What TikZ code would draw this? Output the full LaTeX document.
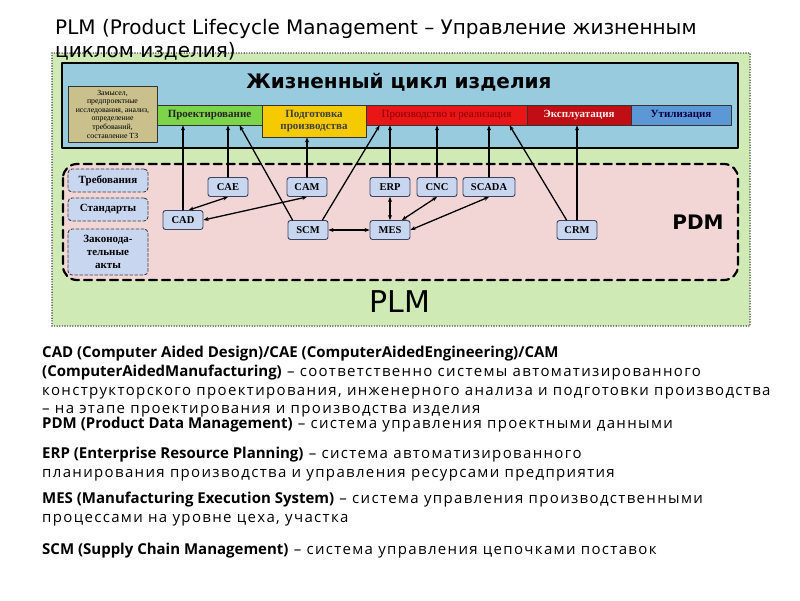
\documentclass[tikz,border=0pt]{standalone}
\usepackage{fontspec}
\setmainfont{DejaVu Sans}
\newfontfamily\tnr{Liberation Serif}
\newfontfamily\notefont{Open Sans}
\newfontfamily\noteregular[LetterSpace=9]{Open Sans}
\newcommand\keyterm[1]{{\notefont\bfseries #1}}
\usetikzlibrary{arrows.meta}
\definecolor{plmgreen}{RGB}{208,234,182}
\definecolor{lcblue}{RGB}{153,203,222}
\definecolor{pdmpink}{RGB}{242,214,214}
\definecolor{stagetan}{RGB}{201,192,140}
\definecolor{stagegreen}{RGB}{124,212,72}
\definecolor{stageyellow}{RGB}{246,202,0}
\definecolor{stagered}{RGB}{232,22,22}
\definecolor{stagedarkred}{RGB}{192,14,20}
\definecolor{stageblue}{RGB}{92,152,214}
\definecolor{sysfill}{RGB}{200,214,240}
\definecolor{sysedge}{RGB}{60,68,96}
\tikzset{
  every picture/.style={line join=round, line cap=round, >=Stealth},
  stagebox/.style={draw=black!80, line width=0.8pt, inner sep=0pt, align=center,
    font=\tnr\bfseries\fontsize{11}{12}\selectfont},
  sysbox/.style={draw=sysedge, fill=sysfill, rounded corners=2.5pt, line width=0.9pt,
    minimum width=40pt, minimum height=19pt, inner sep=0pt,
    font=\tnr\bfseries\fontsize{10.5}{12}\selectfont},
  normbox/.style={draw=black!75, line width=0.9pt, dash pattern=on 3pt off 2pt, fill=sysfill,
    rounded corners=4pt, minimum width=80pt, inner sep=0pt, align=center,
    font=\tnr\bfseries\fontsize{11}{13}\selectfont},
  link/.style={-{Stealth[length=5pt,width=4pt]}, line width=1.3pt},
  dlink/.style={{Stealth[length=5pt,width=4pt]}-{Stealth[length=5pt,width=4pt]}, line width=1.3pt},
  legend/.style={anchor=base west, inner sep=0pt, font=\noteregular\fontsize{15}{18}\selectfont},
}
\begin{document}
\begin{tikzpicture}[x=1pt,y=-1pt]
\useasboundingbox[fill=white] (0,0) rectangle (800,600);
% PLM area
\draw[draw=black!70, line width=1.6pt, dash pattern=on 0pt off 2.6pt, fill=plmgreen] (52,53) rectangle (750,326);
\node[anchor=base west, inner sep=0pt, font=\fontsize{20}{22}\selectfont] (title1) at (55,34) {PLM (Product Lifecycle Management – Управление жизненным};
\node[anchor=base west, inner sep=0pt, font=\fontsize{20}{22}\selectfont] (title2) at (55,57) {циклом изделия)};
% life cycle
\draw[line width=2pt, fill=lcblue] (62,63) rectangle (738,148);
\node[font=\bfseries\fontsize{20}{22}\selectfont] (lc) at (399,82) {Жизненный цикл изделия};
\node[stagebox, fill=stagetan, minimum width=89pt, minimum height=56pt, font=\tnr\fontsize{7.8}{8.6}\selectfont] (idea) at (112.5,114)
  {Замысел,\\предпроектные\\исследования, анализ,\\определение\\требований,\\составление ТЗ};
\node[stagebox, fill=stagegreen, text=black!85, minimum width=105pt, minimum height=20pt] (proekt) at (209.5,115) {Проектирование};
\node[stagebox, fill=stageyellow, text=black!75, minimum width=104pt, minimum height=32pt] (podg) at (314,121) {Подготовка\\производства};
\node[stagebox, fill=stagered, text=red!55!black, minimum width=161pt, minimum height=20pt, font=\tnr\fontsize{11}{12}\selectfont] (proizv) at (446.5,115) {Производство и реализация};
\node[stagebox, fill=stagedarkred, text=red!8, minimum width=104pt, minimum height=20pt] (explo) at (579,115) {Эксплуатация};
\node[stagebox, fill=stageblue, text=blue!25!black, minimum width=100pt, minimum height=20pt] (util) at (681,115) {Утилизация};
% PDM area
\draw[fill=pdmpink, line width=2.2pt, dash pattern=on 8pt off 5pt, rounded corners=14pt] (63,164) rectangle (738,280);
\node[font=\bfseries\fontsize{20}{22}\selectfont] (pdm) at (698,222) {PDM};
\node[font=\fontsize{30}{32}\selectfont] (plm) at (400,302) {PLM};
\node[normbox, minimum height=23pt] (treb) at (108,180.5) {Требования};
\node[normbox, minimum height=23pt] (stand) at (108,209.5) {Стандарты};
\node[normbox, minimum height=46pt] (zakon) at (108,252) {Законода-\\тельные\\акты};
% systems
\node[sysbox] (cad) at (183,220) {CAD};
\node[sysbox] (cae) at (228,187) {CAE};
\node[sysbox] (cam) at (307,187) {CAM};
\node[sysbox] (scm) at (308,230) {SCM};
\node[sysbox] (mes) at (390,230) {MES};
\node[sysbox] (erp) at (390,187) {ERP};
\node[sysbox] (cnc) at (437,187) {CNC};
\node[sysbox, minimum width=52pt] (scada) at (489,187) {SCADA};
\node[sysbox] (crm) at (577,230) {CRM};
% links to stages
\draw[link] (cad.north) -- (cad.north |- proekt.south);
\draw[link] (cae.north) -- (cae.north |- proekt.south);
\draw[link] ([xshift=5pt]scm.north west) -- ([xshift=83pt]proekt.south west);
\draw[link] (cam.north) -- (cam.north |- podg.south);
\draw[link] ([xshift=-6pt]scm.north east) -- ([xshift=14pt]proizv.south west);
\draw[link] (erp.north) -- (erp.north |- proizv.south);
\draw[link] (cnc.north) -- (cnc.north |- proizv.south);
\draw[link] (scada.north) -- (scada.north |- proizv.south);
\draw[link] ([xshift=10pt]crm.north west) -- ([xshift=144pt]proizv.south west);
\draw[link] (crm.north) -- (crm.north |- explo.south);
% links between systems
\draw[dlink] (cae.south) -- (cad.60);
\draw[dlink] (cam.south) -- (cad.east);
\draw[dlink] (scm.east) -- (mes.west);
\draw[dlink] (erp.south) -- (mes.north);
\draw[dlink] (cnc.south) -- (mes.40);
\draw[dlink] (scada.south) -- (mes.east);
% legend
\node[legend] (l1) at (42,357) {\keyterm{CAD (Computer Aided Design)/CAE (ComputerAidedEngineering)/CAM}};
\node[legend] (l2) at (42,376) {\keyterm{(ComputerAidedManufacturing)} – соответственно системы автоматизированного};
\node[legend] (l3) at (42,395) {конструкторского проектирования, инженерного анализа и подготовки производства};
\node[legend] (l4) at (42,413) {– на этапе проектирования и производства изделия};
\node[legend] (l5) at (42,428) {\keyterm{PDM (Product Data Management)} – система управления проектными данными};
\node[legend] (l6) at (42,458) {\keyterm{ERP (Enterprise Resource Planning)} – система автоматизированного};
\node[legend] (l7) at (42,477) {планирования производства и управления ресурсами предприятия};
\node[legend] (l8) at (42,503) {\keyterm{MES (Manufacturing Execution System)} – система управления производственными};
\node[legend] (l9) at (42,522) {процессами на уровне цеха, участка};
\node[legend] (l10) at (42,554) {\keyterm{SCM (Supply Chain Management)} – система управления цепочками поставок};
\end{tikzpicture}
\end{document}
